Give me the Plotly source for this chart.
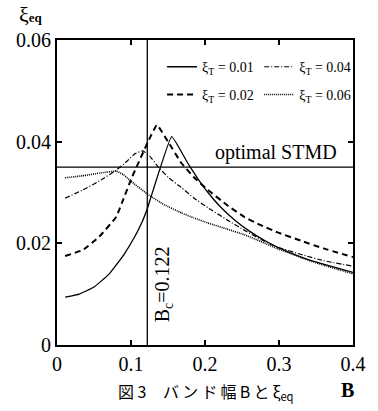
import plotly.graph_objects as go

# ---- data ----
B_T001 = [0.011, 0.03, 0.05, 0.07, 0.09, 0.105, 0.115, 0.122, 0.155, 0.177, 0.19, 0.204,
          0.22, 0.24, 0.26, 0.28, 0.30, 0.33, 0.36, 0.40]
XI_T001 = [0.0094, 0.0100, 0.0114, 0.0139, 0.0177, 0.0213, 0.0242, 0.0268, 0.0410, 0.0357,
           0.0328, 0.0300, 0.0273, 0.0246, 0.0224, 0.0206, 0.0191, 0.0173, 0.0159, 0.0143]

B_T002 = [0.011, 0.035, 0.057, 0.08, 0.09, 0.101, 0.124, 0.135, 0.15, 0.168, 0.185, 0.204,
          0.23, 0.253, 0.275, 0.297, 0.33, 0.36, 0.40]
XI_T002 = [0.0175, 0.0187, 0.0213, 0.0252, 0.0288, 0.0329, 0.0403, 0.0433, 0.0400, 0.0358,
           0.0330, 0.0305, 0.0275, 0.0252, 0.0236, 0.0222, 0.0205, 0.0190, 0.0173]

B_T004 = [0.011, 0.035, 0.06, 0.08, 0.095, 0.105, 0.116, 0.125, 0.137, 0.15, 0.168, 0.185,
          0.204, 0.23, 0.253, 0.275, 0.297, 0.33, 0.36, 0.40]
XI_T004 = [0.0289, 0.0305, 0.0325, 0.0344, 0.0362, 0.0376, 0.0382, 0.0372, 0.0350, 0.0330,
           0.0310, 0.0289, 0.0270, 0.0246, 0.0226, 0.0208, 0.0193, 0.0178, 0.0166, 0.0155]

B_T006 = [0.011, 0.035, 0.057, 0.08, 0.09, 0.10, 0.124, 0.145, 0.168, 0.185, 0.204, 0.23,
          0.253, 0.275, 0.297, 0.33, 0.36, 0.40]
XI_T006 = [0.0329, 0.0333, 0.0338, 0.0342, 0.0335, 0.0322, 0.0295, 0.0276, 0.0260, 0.0250,
           0.0240, 0.0228, 0.0217, 0.0204, 0.0190, 0.0172, 0.0157, 0.0140]

B_C = 0.122
XI_OPT = 0.035

X_TICKS = [0, 0.1, 0.2, 0.3, 0.4]
X_TICK_LABELS = ["0", "0.1", "0.2", "0.3", "0.4"]
Y_TICKS = [0, 0.02, 0.04, 0.06]
Y_TICK_LABELS = ["0", "0.02", "0.04", "0.06"]

SERIES = [
    ("ξ<sub>T</sub> = 0.01", B_T001, XI_T001, "solid", 1.3, "legend"),
    ("ξ<sub>T</sub> = 0.02", B_T002, XI_T002, "6px,4px", 2.0, "legend2"),
    ("ξ<sub>T</sub> = 0.04", B_T004, XI_T004, "5px,2px,1px,2px", 1.2, "legend3"),
    ("ξ<sub>T</sub> = 0.06", B_T006, XI_T006, "1px,1px", 1.6, "legend4"),
]

SERIF = "Liberation Serif, Times New Roman, serif"

fig = go.Figure()
for name, xs, ys, dash, w, lg in SERIES:
    fig.add_trace(go.Scatter(
        x=xs, y=ys, mode="lines", name=name, legend=lg, showlegend=True,
        line=dict(color="black", width=w, dash=dash, shape="spline", smoothing=0.3),
    ))

fig.add_vline(x=B_C, line=dict(color="black", width=1.3))
fig.add_hline(y=XI_OPT, line=dict(color="black", width=1.3))

legend_common = dict(
    bgcolor="rgba(0,0,0,0)", borderwidth=0,
    font=dict(family=SERIF, size=14, color="black"),
    xanchor="left", yanchor="middle", itemwidth=30, visible=True,
)

tickfont = dict(family=SERIF, size=20, color="black")
axis_common = dict(
    showline=True, linecolor="black", linewidth=2, mirror="ticks",
    ticks="inside", ticklen=5, tickwidth=1.5, tickcolor="black",
    showgrid=False, zeroline=False, tickfont=tickfont,
)

fig.update_layout(
    width=378, height=411,
    margin=dict(l=57, r=20, t=40, b=66),
    paper_bgcolor="white", plot_bgcolor="white",
    font=dict(family=SERIF, color="black", size=20),
    showlegend=True,
    legend=dict(x=0.355, y=0.911, **legend_common),
    legend2=dict(x=0.355, y=0.82, **legend_common),
    legend3=dict(x=0.683, y=0.911, **legend_common),
    legend4=dict(x=0.683, y=0.82, **legend_common),
    xaxis=dict(range=[0, 0.4], tickmode="array", tickvals=X_TICKS, ticktext=X_TICK_LABELS,
               **axis_common),
    yaxis=dict(range=[0, 0.06], tickmode="array", tickvals=Y_TICKS, ticktext=Y_TICK_LABELS,
               **axis_common),
)

fig.add_annotation(
    x=B_C, y=0.012, xref="x", yref="y", xshift=16,
    text="B<sub>c</sub>=0.122", textangle=-90, showarrow=False,
    font=dict(family=SERIF, size=20, color="black"),
)
fig.add_annotation(
    x=0.4, y=XI_OPT, xref="x", yref="y", xanchor="right", yanchor="bottom",
    xshift=-14, yshift=1, text="optimal STMD", showarrow=False,
    font=dict(family=SERIF, size=20, color="black"),
)
fig.add_annotation(
    x=-0.135, y=1.082, xref="paper", yref="paper", xanchor="left", yanchor="middle",
    text="ξ<b><span style='font-size:13px'>eq</span></b>", showarrow=False,
    font=dict(family=SERIF, size=22, color="black"),
)
fig.add_annotation(
    x=0.98, y=-0.148, xref="paper", yref="paper", xanchor="center", yanchor="middle",
    text="<b>B</b>", showarrow=False,
    font=dict(family=SERIF, size=20, color="black"),
)
fig.add_annotation(
    x=0.255, y=-0.152, xref="paper", yref="paper", xanchor="center", yanchor="middle",
    text="図 3", showarrow=False,
    font=dict(family="Noto Sans CJK JP", size=16, color="black"),
)
fig.add_annotation(
    x=0.58, y=-0.152, xref="paper", yref="paper", xanchor="center", yanchor="middle",
    text="バ\u2009ン\u2009ド\u2009幅\u2009B\u2009と\u2009ξ<sub>eq</sub>", showarrow=False,
    font=dict(family="Noto Sans CJK JP", size=16, color="black"),
)

fig.write_html("out.html")
